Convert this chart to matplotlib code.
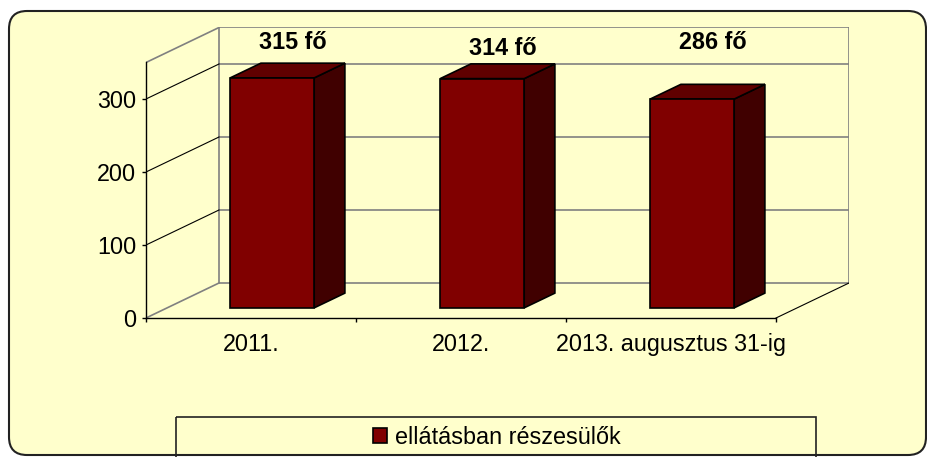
import matplotlib.pyplot as plt
from matplotlib.patches import FancyBboxPatch, Rectangle, Polygon, Patch

plt.rcParams['font.family'] = ['Liberation Sans', 'DejaVu Sans']
plt.rcParams['font.size'] = 16.8

categories = ['2011.', '2012.', '2013. augusztus 31-ig']
values = [315, 314, 286]
bar_labels = ['315 fő', '314 fő', '286 fő']
series_name = 'ellátásban részesülők'
yticks = [0, 100, 200, 300]
ymax = 350

# oblique depth of the 3D box, in data units
DX, DY = 0.348, 48.0
bar_w = 0.4
d0, d1 = 0.29, 0.71
front_c, side_c, top_c = '#800000', '#400000', '#600000'
grid_c = '#808080'

W, H = 928, 457
fig = plt.figure(figsize=(W / 100, H / 100), dpi=100)
fig.patch.set_facecolor('white')

# background frame in pixel coordinates
bg = fig.add_axes([0, 0, 1, 1], zorder=0)
bg.set_xlim(0, W)
bg.set_ylim(H, 0)
bg.axis('off')
bg.add_patch(FancyBboxPatch((9, 11), 917, 444, boxstyle='round,pad=0,rounding_size=18',
                            facecolor='#FFFFCC', edgecolor='#222222', lw=1.5))
bg.add_patch(Rectangle((176, 417), 640, 60, facecolor='none', edgecolor='#222222', lw=1.2))

# chart axes: origin of the front plane at pixel (146, 318)
x0px, y0px = 146, 318
unit_x, unit_y = 210, 0.73
ax = fig.add_axes([x0px / W, (H - y0px) / H, (3 + DX) * unit_x / W, (ymax + DY) * unit_y / H], zorder=1)
ax.set_facecolor('none')
ax.set_xlim(0, 3 + DX)
ax.set_ylim(0, ymax + DY)

# back wall and floor
ax.add_patch(Rectangle((DX, DY), 3, ymax, facecolor='none', edgecolor=grid_c, lw=1.2, zorder=1))
for v in yticks[1:]:
    ax.plot([DX, 3 + DX], [v + DY, v + DY], color=grid_c, lw=1.2, zorder=1)
    ax.plot([0, DX], [v, v + DY], color='black', lw=0.8, zorder=1)
ax.plot([0, DX], [0, DY], color=grid_c, lw=1.2, zorder=1)
ax.plot([0, DX], [ymax, ymax + DY], color=grid_c, lw=1.2, zorder=1)
ax.plot([3, 3 + DX], [0, DY], color='black', lw=0.8, zorder=1)

# bars
for i, v in enumerate(values):
    xl = i + 0.5 - bar_w / 2
    xr = xl + bar_w
    fx, fy = d0 * DX, d0 * DY
    bx, by = d1 * DX, d1 * DY
    front = [(xl + fx, fy), (xr + fx, fy), (xr + fx, v + fy), (xl + fx, v + fy)]
    side = [(xr + fx, fy), (xr + bx, by), (xr + bx, v + by), (xr + fx, v + fy)]
    top = [(xl + fx, v + fy), (xr + fx, v + fy), (xr + bx, v + by), (xl + bx, v + by)]
    for pts, c in [(side, side_c), (top, top_c), (front, front_c)]:
        ax.add_patch(Polygon(pts, closed=True, facecolor=c, edgecolor='black', lw=1.2, zorder=3))

label_y = [377, 369, 377]
for i, t in enumerate(bar_labels):
    ax.text(i + 0.5 + 0.2, label_y[i], t, ha='center', va='center', fontweight='bold',
            zorder=5, clip_on=False)

# front axes
for s in ['top', 'right']:
    ax.spines[s].set_visible(False)
ax.spines['left'].set_bounds(0, ymax)
ax.spines['bottom'].set_bounds(0, 3)
ax.spines['left'].set_linewidth(1.0)
ax.spines['bottom'].set_linewidth(1.0)
ax.set_yticks(yticks)
ax.tick_params(axis='y', direction='out', length=3, width=1, pad=4)
ax.set_xticks([0, 1, 2, 3])
ax.set_xticklabels([])
ax.tick_params(axis='x', which='major', direction='out', length=3, width=1)
ax.set_xticks([0.5, 1.5, 2.5], minor=True)
ax.set_xticklabels(categories, minor=True)
ax.tick_params(axis='x', which='minor', length=0, pad=11)

fig.legend(handles=[Patch(facecolor=front_c, edgecolor='black', lw=1.2)], labels=[series_name],
           loc='center', bbox_to_anchor=(497 / W, 1 - 437 / H), frameon=False,
           handlelength=0.6, handleheight=0.6, handletextpad=0.35)

fig.savefig('out.png', dpi=100, facecolor='white')
